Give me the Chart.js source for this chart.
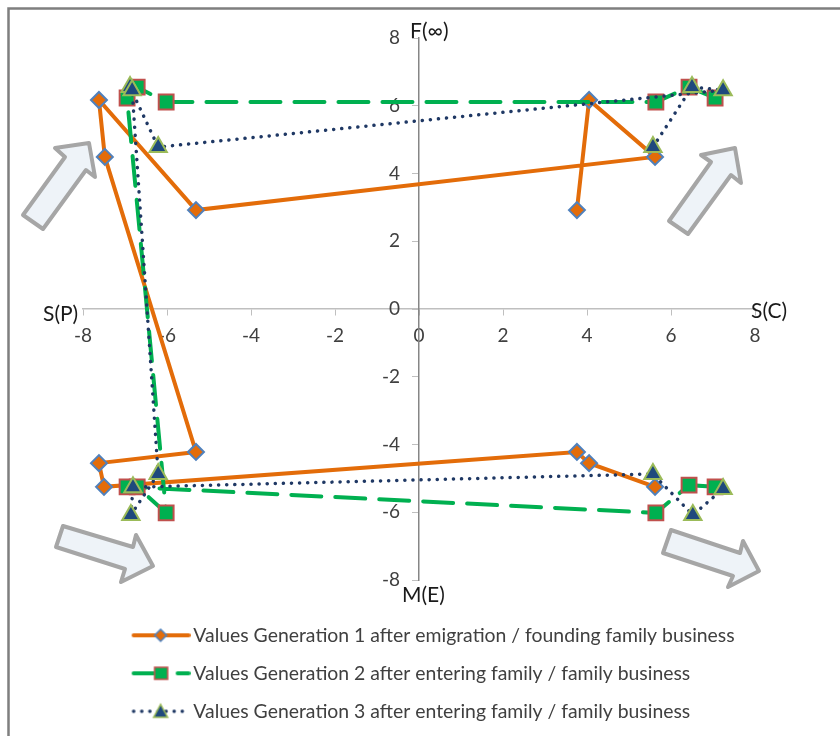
<!DOCTYPE html>
<html>
<head>
<meta charset="utf-8">
<style>
  html, body { margin: 0; padding: 0; background: #fff; }
  #wrap { width: 840px; height: 736px; }
</style>
<script src="https://cdn.jsdelivr.net/npm/chart.js@4"></script>
</head>
<body>
<div id="wrap"><canvas id="chart" width="840" height="736"></canvas></div>
<script>
const tickValues = [-8, -6, -4, -2, 0, 2, 4, 6, 8];

const gen1Label = 'Values Generation 1 after emigration / founding family business';
const gen1X = [3.76, 4.05, 5.62, -5.31, -7.62, -7.48, -5.31, -7.62, -7.5, 3.76, 4.05, 5.62];
const gen1Y = [2.92, 6.17, 4.49, 2.92, 6.17, 4.49, -4.22, -4.55, -5.25, -4.22, -4.55, -5.25];

const gen2Label = 'Values Generation 2 after entering family / family business';
const gen2X = [7.05, 6.43, 5.64, -6.02, -6.71, -6.95, -6.02, -6.71, -6.95, 5.64, 6.43, 7.05];
const gen2Y = [6.23, 6.55, 6.11, 6.11, 6.55, 6.23, -6.02, -5.25, -5.25, -6.02, -5.2, -5.25];

const gen3Label = 'Values Generation 3 after entering family / family business';
const gen3X = [5.57, 6.5, 7.24, -6.21, -6.88, -6.83, -6.21, -6.86, -6.81, 5.57, 6.52, 7.24];
const gen3Y = [4.78, 6.55, 6.46, 4.78, 6.55, 6.46, -4.87, -6.08, -5.26, -4.87, -6.08, -5.31];

const FONT = 'Lato, "Open Sans", sans-serif';

function toPoints(xs, ys) {
    return xs.map((x, i) => ({ x: x, y: ys[i] }));
}

// legend key: line with the marker in the middle, like the spreadsheet one
function makeKey(ds) {
    const c = document.createElement('canvas');
    c.width = 64;
    c.height = 20;
    const g = c.getContext('2d');
    g.strokeStyle = ds.borderColor;
    g.lineWidth = ds.borderWidth;
    g.lineCap = 'round';
    g.setLineDash(ds.borderDash || []);
    g.beginPath();
    g.moveTo(7, 10);
    g.lineTo(62, 10);
    g.stroke();
    g.setLineDash([]);
    g.fillStyle = ds.pointBackgroundColor;
    g.strokeStyle = ds.pointBorderColor;
    g.lineWidth = 1.5;
    g.beginPath();
    if (ds.pointStyle === 'rectRot') {
        g.moveTo(34, 4); g.lineTo(40, 10); g.lineTo(34, 16); g.lineTo(28, 10);
    } else if (ds.pointStyle === 'rect') {
        g.rect(28, 4, 13, 12);
    } else {
        g.moveTo(34, 3); g.lineTo(41, 16); g.lineTo(27, 16);
    }
    g.closePath();
    g.fill();
    g.stroke();
    return c;
}

const datasets = [
    {
        label: gen1Label,
        data: toPoints(gen1X, gen1Y),
        borderColor: '#E36C09',
        borderWidth: 4,
        pointStyle: 'rectRot',
        pointRadius: 8,
        pointBackgroundColor: '#E36C09',
        pointBorderColor: '#4F81BD',
        pointBorderWidth: 2,
        order: 3
    },
    {
        label: gen2Label,
        data: toPoints(gen2X, gen2Y),
        borderColor: '#00B050',
        borderWidth: 4,
        borderDash: [30, 14],
        borderCapStyle: 'round',
        pointStyle: 'rect',
        pointRadius: 10.5,
        pointBackgroundColor: '#00B050',
        pointBorderColor: '#C0504D',
        pointBorderWidth: 2,
        order: 2
    },
    {
        label: gen3Label,
        data: toPoints(gen3X, gen3Y),
        borderColor: '#1F3864',
        borderWidth: 3.5,
        borderDash: [0.1, 8],
        borderCapStyle: 'round',
        pointStyle: 'triangle',
        pointRadius: 10,
        pointBackgroundColor: '#1F497D',
        pointBorderColor: '#9BBB59',
        pointBorderWidth: 2,
        order: 1
    }
];

// the four block arrows pasted on top of the chart, in canvas pixels
const arrowShapes = [
    [[89, 143], [95, 177], [86, 170], [43, 229], [23, 215], [65, 157], [55, 148]],
    [[735, 148], [741, 183], [731, 175], [688, 234], [669, 221], [711, 162], [701, 155]],
    [[63, 526], [133, 547], [136, 535], [153, 566], [121, 582], [125, 569], [56, 547]],
    [[671, 530], [740, 553], [743, 541], [759, 571], [728, 587], [733, 576], [663, 553]]
];

const axisNames = [
    { text: 'F(\u221E)', x: 410, y: 31 },
    { text: 'S(C)', x: 751, y: 311 },
    { text: 'S(P)', x: 43, y: 314 },
    { text: 'M(E)', x: 402, y: 595 }
];

const decorations = {
    id: 'decorations',
    beforeDraw(chart) {
        // legend sits at its own place below the plot
        chart.legend.left = 115;
        chart.legend.right = 840;
        chart.legend.top = 607;
        chart.legend.bottom = 736;
        // labels of a centred y axis ignore ticks.padding, so push them left here
        chart.scales.y.getLabelItems(chart.chartArea).forEach(item => {
            if (!item.moved) {
                item.options.translation[0] -= 19;
                item.moved = true;
            }
        });
    },
    afterDatasetsDraw(chart) {
        const g = chart.ctx;
        g.save();
        g.strokeStyle = '#7F7F7F';
        g.lineWidth = 2.5;
        g.beginPath();
        g.moveTo(8.5, 736);
        g.lineTo(8.5, 8.5);
        g.lineTo(840, 8.5);
        g.stroke();

        g.fillStyle = '#EEF3F8';
        g.strokeStyle = '#A6A6A6';
        g.lineWidth = 4;
        g.lineJoin = 'round';
        arrowShapes.forEach(shape => {
            g.beginPath();
            shape.forEach((p, i) => {
                if (i === 0) g.moveTo(p[0], p[1]);
                else g.lineTo(p[0], p[1]);
            });
            g.closePath();
            g.fill();
            g.stroke();
        });

        g.fillStyle = '#1a1a1a';
        g.font = '21px ' + FONT;
        g.textAlign = 'left';
        g.textBaseline = 'middle';
        axisNames.forEach(n => g.fillText(n.text, n.x, n.y));
        g.restore();
    }
};

new Chart(document.getElementById('chart'), {
    type: 'scatter',
    data: { datasets: datasets },
    plugins: [decorations],
    options: {
        responsive: false,
        animation: false,
        layout: { padding: { left: 83, right: 85, top: 38, bottom: 32 } },
        elements: { line: { tension: 0 } },
        datasets: { scatter: { showLine: true } },
        scales: {
            x: {
                type: 'linear',
                min: -8,
                max: 8,
                position: { y: 0 },
                border: { color: '#BFBFBF', width: 1.5 },
                grid: { drawOnChartArea: false, color: '#BFBFBF', tickLength: 6 },
                afterBuildTicks: axis => { axis.ticks = tickValues.map(v => ({ value: v })); },
                ticks: {
                    color: '#404040',
                    font: { family: FONT, size: 19 },
                    maxRotation: 0,
                    autoSkip: false,
                    padding: 9
                }
            },
            y: {
                type: 'linear',
                min: -8,
                max: 8,
                position: { x: 0 },
                border: { color: '#868686', width: 1.5 },
                grid: { drawOnChartArea: false, color: '#BFBFBF', tickLength: 6 },
                afterBuildTicks: axis => { axis.ticks = tickValues.map(v => ({ value: v })); },
                ticks: {
                    color: '#404040',
                    font: { family: FONT, size: 19 },
                    autoSkip: false
                }
            }
        },
        plugins: {
            tooltip: { enabled: false },
            legend: {
                position: 'bottom',
                align: 'start',
                labels: {
                    color: '#404040',
                    font: { family: FONT, size: 19.4 },
                    padding: 18.6,
                    usePointStyle: true,
                    pointStyleWidth: 50,
                    generateLabels: chart => chart.data.datasets.map((ds, i) => ({
                        text: ds.label,
                        pointStyle: makeKey(ds),
                        fontColor: '#404040',
                        lineWidth: 0,
                        strokeStyle: 'transparent',
                        fillStyle: 'transparent',
                        datasetIndex: i
                    }))
                }
            }
        }
    }
});
</script>
</body>
</html>
